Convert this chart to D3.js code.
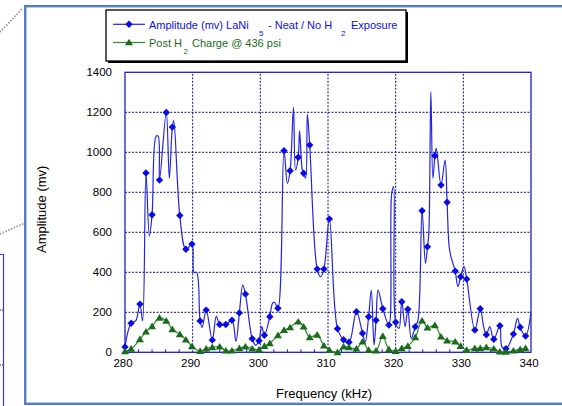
<!DOCTYPE html>
<html>
<head>
<meta charset="utf-8">
<script src="https://cdn.jsdelivr.net/npm/d3@7"></script>
<style>
  html, body { margin: 0; padding: 0; background: #fff; }
  svg { display: block; font-family: Arial, "Liberation Sans", sans-serif; }
</style>
</head>
<body>
<svg id="chart" width="562" height="406"></svg>
<script>
// Sweep frequencies (kHz) at which both series were sampled
const freq = [280.0, 280.9, 282.2, 283.1, 284.0, 285.1, 286.1, 287.0, 288.1, 289.0,
  289.9, 291.1, 292.0, 292.9, 294.0, 294.9, 295.8, 296.9, 297.8, 298.8,
  299.8, 300.6, 301.4, 302.6, 303.5, 304.4, 305.6, 306.4, 307.3, 308.4,
  309.4, 310.2, 311.4, 312.3, 313.1, 314.2, 315.1, 316.0, 317.1, 318.1,
  319.0, 320.0, 320.9, 321.8, 322.9, 323.9, 324.7, 325.8, 326.7, 327.6,
  328.8, 329.6, 330.5, 331.7, 332.5, 333.4, 334.5, 335.4, 336.3, 337.4,
  338.4, 339.2];

// Amplitude (mV), LaNi5 neat, no H2 exposure
const amplitude = [27, 145, 241, 897, 688, 861, 1199, 1126, 684, 515,
  541, 157, 211, 61, 139, 139, 160, 197, 291, 68,
  58, 85, 178, 220, 1008, 908, 975, 895, 1036, 416,
  416, 667, 118, 63, 50, 203, 95, 178, 160, 218,
  136, 150, 253, 215, 128, 708, 528, 983, 836, 750,
  406, 378, 366, 111, 218, 88, 65, 133, 18, 91,
  125, 81];

// Intermediate amplitude readings between the marked samples (line only)
const amplitudeFineFreq = [281.6, 282.6, 283.6, 284.6, 284.9, 286.55, 287.2, 290.2, 290.6, 291.4,
  293.5, 296.4, 297.4, 299.3, 300.2, 301.8, 302.1, 304.0, 304.9, 305.2,
  305.8, 306.2, 306.7, 306.95, 308.9, 315.5, 316.4, 316.8, 317.4, 319.4,
  319.7, 320.5, 321.4, 322.3, 323.3, 324.4, 324.9, 325.2, 325.5, 326.0,
  327.3, 327.9, 328.2, 329.2, 330.1, 333.0, 333.9, 335.7, 338.0, 340.0];
const amplitudeFine = [158, 158, 581, 1081, 1081, 870, 1158, 400, 398, 125,
  181, 55, 336, 36, 128, 245, 250, 845, 1225, 911,
  1108, 911, 870, 1191, 378, 51, 311, 36, 311, 790,
  828, 120, 128, 70, 161, 445, 595, 1303, 870, 1020,
  961, 528, 475, 328, 428, 128, 128, 28, 170, 203];

// Amplitude (mV) after H2 charge at 436 psi
const postCharge = [5, 17, 65, 103, 130, 172, 157, 115, 90, 63,
  30, 6, 18, 25, 28, 8, 8, 20, 28, 18,
  13, 31, 45, 85, 111, 124, 153, 128, 75, 87,
  33, 11, 0, 28, 25, 18, 53, 11, 8, 81,
  15, 6, 20, 31, 75, 158, 123, 135, 78, 58,
  53, 31, 11, 20, 20, 25, 18, 3, 2, 8,
  15, 20];

const xTicks = [280, 290, 300, 310, 320, 330, 340];
const xMinorTicks = [282, 284, 286, 288, 292, 294, 296, 298, 302, 304, 306, 308,
  312, 314, 316, 318, 322, 324, 326, 328, 332, 334, 336, 338];
const yTicks = [0, 200, 400, 600, 800, 1000, 1200, 1400];

const BLUE_LINE = "#2424e0";
const BLUE_MARK = "#0a0ae6";
const GREEN_LINE = "#2f8a2f";
const GREEN_MARK = "#1b6b1b";
const GRID = "#10107a";
const AXIS = "#1c1cc8";

const svg = d3.select("#chart");

// Outer chart frame and neighbouring slide decorations
svg.append("line").attr("x1", 0).attr("y1", 32).attr("x2", 23).attr("y2", 8)
  .attr("stroke", "#a0a0a0").attr("stroke-width", 2).attr("stroke-dasharray", "1.5,1.5");
svg.append("line").attr("x1", 0).attr("y1", 234).attr("x2", 25).attr("y2", 223)
  .attr("stroke", "#a0a0a0").attr("stroke-width", 2).attr("stroke-dasharray", "1.5,1.5");
svg.append("path").attr("d", "M0,254.5H3.5V406").attr("fill", "none")
  .attr("stroke", "#3a3ae0").attr("stroke-width", 1.2);
[310, 365].forEach(yy => svg.append("line").attr("x1", 0).attr("x2", 3.5)
  .attr("y1", yy).attr("y2", yy).attr("stroke", GRID).attr("stroke-dasharray", "1,1"));
svg.append("rect").attr("x", 25.2).attr("y", 6.2).attr("width", 560).attr("height", 397.6)
  .attr("fill", "#fff").attr("stroke", "#4f7fc2").attr("stroke-width", 2.4);

const x = d3.scaleLinear().domain([280, 340]).range([125, 531]);
const y = d3.scaleLinear().domain([0, 1400]).range([352.3, 72.3]);

// Gridlines
const grid = svg.append("g");
grid.selectAll("line.h").data(yTicks.slice(1, -1)).join("line")
  .attr("x1", x(280)).attr("x2", x(340))
  .attr("y1", d => y(d)).attr("y2", d => y(d))
  .attr("stroke", GRID).attr("stroke-width", 1).attr("stroke-dasharray", "2,1.5");
grid.selectAll("line.v").data(xTicks.slice(1, -1)).join("line")
  .attr("x1", d => x(d)).attr("x2", d => x(d))
  .attr("y1", y(0)).attr("y2", y(1400))
  .attr("stroke", GRID).attr("stroke-width", 1).attr("stroke-dasharray", "2,1.5");

// Axes with tick labels
const xAxis = d3.axisBottom(x).tickValues(xTicks).tickSize(0).tickPadding(7).tickFormat(d3.format("d"));
const gx = svg.append("g").attr("transform", `translate(-2.5,${y(0)})`).call(xAxis);
gx.select(".domain").remove();
gx.selectAll("text").attr("font-size", 11.5).attr("fill", "#000")
  .attr("font-family", 'Arial, "Liberation Sans", sans-serif');

const yAxis = d3.axisLeft(y).tickValues(yTicks).tickSize(0).tickPadding(13).tickFormat(d3.format("d"));
const gy = svg.append("g").attr("transform", `translate(${x(280)},0)`).call(yAxis);
gy.select(".domain").remove();
gy.selectAll("text").attr("font-size", 11.5).attr("fill", "#000")
  .attr("font-family", 'Arial, "Liberation Sans", sans-serif');

// Minor ticks along the frequency axis
svg.append("g").selectAll("line").data(xMinorTicks).join("line")
  .attr("x1", d => x(d)).attr("x2", d => x(d))
  .attr("y1", y(0)).attr("y2", y(0) - 3)
  .attr("stroke", AXIS).attr("stroke-width", 1);

// Plot area border
svg.append("rect").attr("x", x(280)).attr("y", y(1400))
  .attr("width", x(340) - x(280)).attr("height", y(0) - y(1400))
  .attr("fill", "none").attr("stroke", AXIS).attr("stroke-width", 1.3);

// Axis titles
svg.append("text").attr("transform", `translate(45.5,${y(700) - 3}) rotate(-90)`)
  .attr("text-anchor", "middle").attr("font-size", 13).attr("fill", "#000")
  .text("Amplitude (mv)");
svg.append("text").attr("x", 324).attr("y", 397.5)
  .attr("text-anchor", "middle").attr("font-size", 13).attr("fill", "#000")
  .text("Frequency (kHz)");

// Series geometry
const marked = freq.map((f, i) => ({ f, v: amplitude[i] }));
const fine = amplitudeFineFreq.map((f, i) => ({ f, v: amplitudeFine[i] }));
const bluePts = marked.concat(fine).sort((a, b) => a.f - b.f);
const greenPts = freq.map((f, i) => ({ f, v: postCharge[i] }));

const line = d3.line().x(d => x(d.f)).y(d => y(d.v)).curve(d3.curveCatmullRom.alpha(0.5));

const diamond = r => `M0,${-r}L${r},0L0,${r}L${-r},0Z`;
const triangle = r => `M0,${-r}L${r * 1.05},${r * 0.75}L${-r * 1.05},${r * 0.75}Z`;

svg.append("path").datum(bluePts).attr("d", line)
  .attr("fill", "none").attr("stroke", BLUE_LINE).attr("stroke-width", 1.2);
svg.append("g").selectAll("path").data(marked).join("path")
  .attr("transform", d => `translate(${x(d.f)},${y(d.v)})`)
  .attr("d", diamond(3.7)).attr("fill", BLUE_MARK);

svg.append("path").datum(greenPts).attr("d", line)
  .attr("fill", "none").attr("stroke", GREEN_LINE).attr("stroke-width", 1.2);
svg.append("g").selectAll("path").data(greenPts).join("path")
  .attr("transform", d => `translate(${x(d.f)},${y(d.v)})`)
  .attr("d", triangle(3.8)).attr("fill", GREEN_MARK);

// Legend
const lg = svg.append("g");
lg.append("rect").attr("x", 108).attr("y", 12).attr("width", 300).attr("height", 51).attr("fill", "#000");
lg.append("rect").attr("x", 106).attr("y", 10).attr("width", 300).attr("height", 51)
  .attr("fill", "#fff").attr("stroke", "#000").attr("stroke-width", 1.3);

lg.append("line").attr("x1", 113).attr("x2", 145).attr("y1", 24.3).attr("y2", 24.3)
  .attr("stroke", BLUE_LINE).attr("stroke-width", 1.2);
lg.append("path").attr("transform", "translate(129,24.3)").attr("d", diamond(3.7)).attr("fill", BLUE_MARK);
lg.append("line").attr("x1", 113).attr("x2", 145).attr("y1", 42.5).attr("y2", 42.5)
  .attr("stroke", GREEN_LINE).attr("stroke-width", 1.2);
lg.append("path").attr("transform", "translate(129,42.5)").attr("d", triangle(3.8)).attr("fill", GREEN_MARK);

const t1 = lg.append("text").attr("font-size", 11).attr("fill", "#1010d8");
t1.append("tspan").attr("x", 149).attr("y", 29).text("Amplitude (mv) LaNi");
t1.append("tspan").attr("x", 259).attr("y", 36).attr("font-size", 8).text("5");
t1.append("tspan").attr("x", 268).attr("y", 29).text("- Neat / No H");
t1.append("tspan").attr("x", 341).attr("y", 36).attr("font-size", 8).text("2");
t1.append("tspan").attr("x", 351).attr("y", 29).text("Exposure");

const t2 = lg.append("text").attr("font-size", 11).attr("fill", "#1b6b1b");
t2.append("tspan").attr("x", 149).attr("y", 47).text("Post H");
t2.append("tspan").attr("x", 183.5).attr("y", 53.5).attr("font-size", 8).text("2");
t2.append("tspan").attr("x", 192).attr("y", 47).text("Charge @ 436 psi");
</script>
</body>
</html>
